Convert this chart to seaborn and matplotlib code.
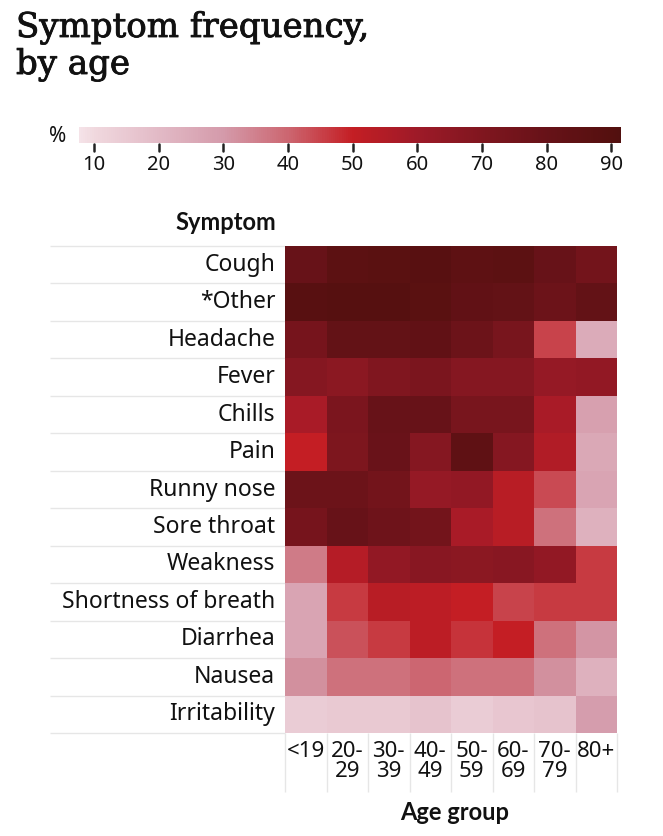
import numpy as np
import pandas as pd
import seaborn as sns
import matplotlib.pyplot as plt
import matplotlib.patheffects as pe
from matplotlib.colors import LinearSegmentedColormap
from matplotlib.lines import Line2D

symptoms = ['Cough', '*Other', 'Headache', 'Fever', 'Chills', 'Pain', 'Runny nose',
            'Sore throat', 'Weakness', 'Shortness of breath', 'Diarrhea', 'Nausea',
            'Irritability']
age_groups = ['<19', '20-\n29', '30-\n39', '40-\n49', '50-\n59', '60-\n69', '70-\n79', '80+']

# percent of patients per age group
cough = [80, 86, 87, 88, 85, 86, 80, 75]
other = [88, 89, 89, 87, 83, 82, 78, 82]
headache = [74, 82, 82, 83, 78, 73, 45, 25]
fever = [68, 66, 70, 72, 68, 68, 63, 64]
chills = [57, 72, 80, 80, 73, 73, 57, 28]
pain = [50, 71, 79, 68, 84, 68, 55, 26]
runny_nose = [78, 78, 75, 63, 64, 53, 44, 27]
sore_throat = [74, 80, 77, 75, 57, 53, 38, 23]
weakness = [36, 54, 64, 67, 66, 67, 64, 46]
short_breath = [27, 46, 53, 52, 50, 45, 46, 46]
diarrhea = [27, 43, 46, 52, 47, 50, 38, 31]
nausea = [32, 38, 38, 40, 38, 38, 32, 23]
irritability = [14, 15, 15, 17, 14, 16, 17, 29]

cbar_ticks = [10, 20, 30, 40, 50, 60, 70, 80, 90]

df = pd.DataFrame([cough, other, headache, fever, chills, pain, runny_nose, sore_throat,
                   weakness, short_breath, diarrhea, nausea, irritability],
                  index=symptoms, columns=age_groups)

sns.set_theme(style='white')
plt.rcParams['font.family'] = ['Noto Sans', 'DejaVu Sans']

vmin, vmax = 7.7, 91.5
def pos(v):
    return (v - vmin) / (vmax - vmin)

cmap = LinearSegmentedColormap.from_list('reds', [
    (0.0, '#f5e3e8'), (pos(10), '#f0d8de'), (pos(20), '#e2bac6'), (pos(30), '#d49aaa'),
    (pos(40), '#cc6670'), (pos(50), '#c41e24'), (pos(60), '#9e1a28'), (pos(70), '#80161f'),
    (pos(80), '#671218'), (pos(90), '#55100f'), (1.0, '#51100f')])

W, H = 663, 836
cb_left, cb_width = 79, 542
fig = plt.figure(figsize=(W / 100, H / 100), dpi=100)
ax = fig.add_axes([285 / W, 1 - 733 / H, 332 / W, 487 / H])
cax = fig.add_axes([cb_left / W, 1 - 143 / H, cb_width / W, 16 / H])

sns.heatmap(df, ax=ax, cmap=cmap, vmin=vmin, vmax=vmax, cbar_ax=cax,
            cbar_kws={'orientation': 'horizontal', 'ticks': cbar_ticks})

# colorbar styling: short dark tick marks under the bar
cbar = ax.collections[0].colorbar
cbar.outline.set_visible(False)
cax.tick_params(axis='x', length=0, labelsize=14.5, pad=9, labelcolor='#111111')
for t in cbar_ticks:
    xf = (cb_left + pos(t) * cb_width) / W
    fig.add_artist(Line2D([xf, xf], [1 - 143.5 / H, 1 - 151 / H], transform=fig.transFigure,
                          color='#222222', lw=1.8, zorder=10))
fig.text(58 / W, 1 - 136 / H, '%', fontsize=15, ha='center', va='center', color='#111111')

# heatmap axes styling
ax.set_xlabel('')
ax.set_ylabel('')
ax.set_yticklabels(symptoms, rotation=0, fontsize=16.5, color='#111111')
ax.set_xticklabels(age_groups, rotation=0, fontsize=16, color='#111111', linespacing=0.9)
ax.tick_params(axis='y', length=0, pad=7)
ax.tick_params(axis='x', length=0, pad=6)

ncol, nrow = df.shape[1], df.shape[0]
cell_w = 332 / ncol
cell_h = 487 / nrow
left_ext = -(285 - 50) / cell_w
ax.hlines(np.arange(nrow + 1), left_ext, 0, color='#e6e6e6', lw=1, clip_on=False, zorder=0)
ax.vlines(np.arange(ncol + 1), nrow, nrow + (792 - 733) / cell_h, color='#e6e6e6', lw=1,
          clip_on=False, zorder=0)

fig.text(276 / W, 1 - 222 / H, 'Symptom', fontsize=17, fontweight='bold', family='Lato',
         ha='right', va='center', color='#111111')
fig.text(455 / W, 1 - 812 / H, 'Age group', fontsize=17, fontweight='bold', family='Lato',
         ha='center', va='center', color='#111111')

fig.text(16 / W, 1 - 12 / H, 'Symptom frequency,\nby age', fontsize=24.5, family='DejaVu Serif',
         ha='left', va='top', color='#111111', linespacing=1.2,
         path_effects=[pe.withStroke(linewidth=0.6, foreground='#111111')])

fig.savefig('out.png', dpi=100)
